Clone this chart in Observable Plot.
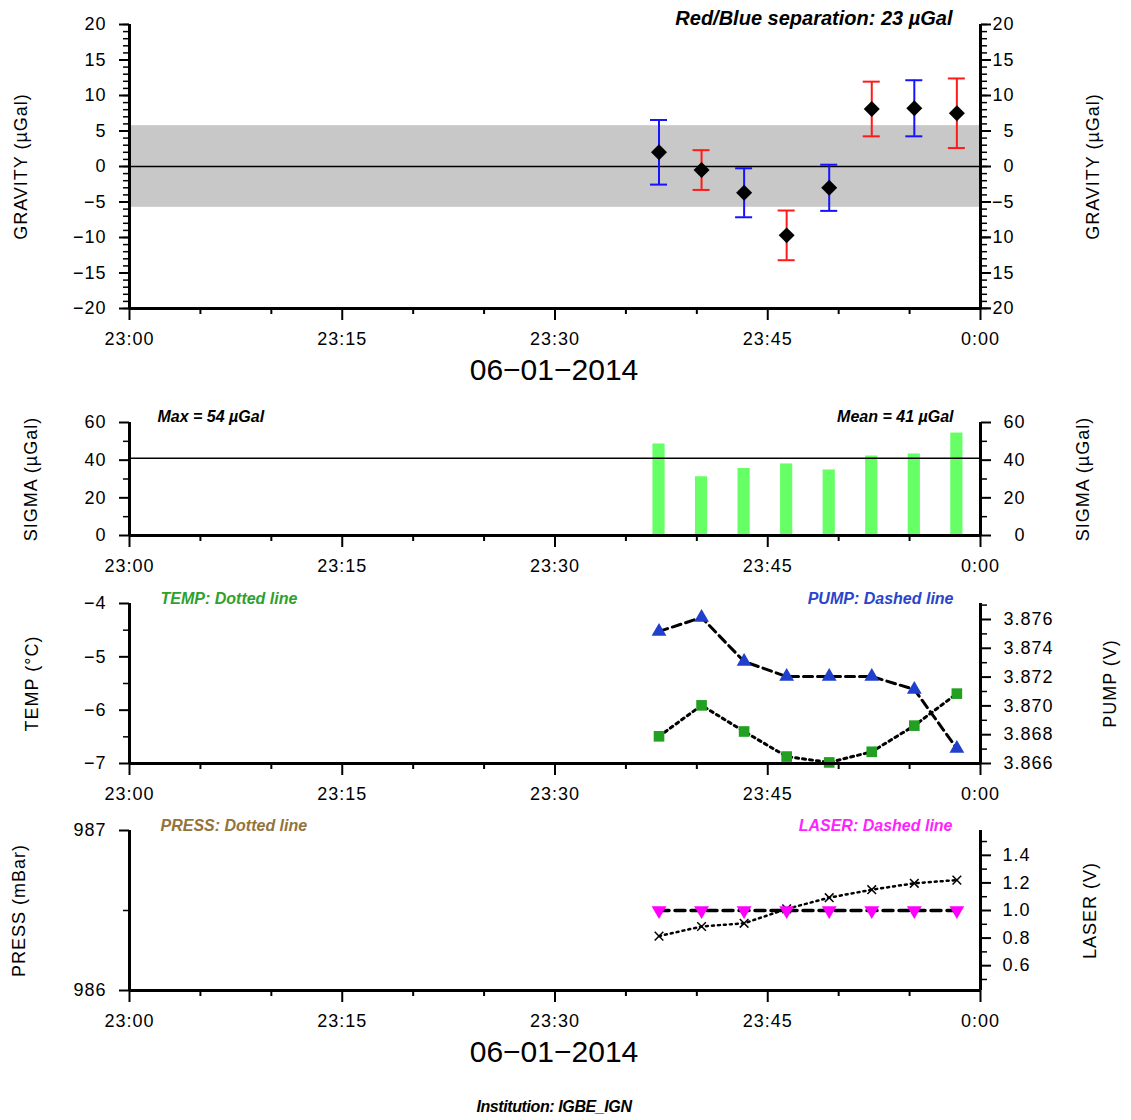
<!DOCTYPE html>
<html><head><meta charset="utf-8">
<script src="https://cdn.jsdelivr.net/npm/d3@7"></script>
<script src="https://cdn.jsdelivr.net/npm/@observablehq/plot@0.6"></script>
<style>
body{margin:0;background:#fff;}
#chart{position:relative;width:1131px;height:1120px;font-family:"Liberation Sans",Arial,sans-serif;overflow:hidden;}
#chart svg{position:absolute;left:0;background:transparent;overflow:visible;}
#chart [aria-label$="tick label"]{letter-spacing:1px;}
#chart [aria-label="y-axis label"]{letter-spacing:1px;}
.note{position:absolute;left:0;width:1108px;text-align:center;color:#000;}
</style></head><body><div id="chart"></div>
<script>
// ---- data ----
const times = ["23:37:20","23:40:20","23:43:20","23:46:20","23:49:20","23:52:20","23:55:20","23:58:20"];
const gravity = [2.0, -0.5, -3.7, -9.7, -3.0, 8.1, 8.2, 7.5];
const gravityErr = [4.55, 2.8, 3.45, 3.5, 3.25, 3.85, 3.95, 4.9];
const setColors = ["#1414ff","#ff1a1a","#1414ff","#ff1a1a","#1414ff","#ff1a1a","#1414ff","#ff1a1a"];
const gravityBand = [-5.75, 5.75];
const sigma = [48.6, 31.2, 35.6, 38.0, 34.8, 42.2, 43.3, 54.4];
const temp = [-6.49, -5.91, -6.40, -6.87, -6.98, -6.78, -6.29, -5.69];
const pump = [3.87517, 3.87614, 3.87308, 3.87204, 3.87204, 3.87204, 3.87114, 3.86704];
const press = [986.34, 986.40, 986.42, 986.51, 986.58, 986.63, 986.67, 986.69];
const laser = [1.0, 1.0, 1.0, 1.0, 1.0, 1.0, 1.0, 1.0];
const xTickLabels = ["23:00","23:15","23:30","23:45","0:00"];
const separationText = "Red/Blue separation: 23 \u00b5Gal";
const dateLabel = "06\u221201\u22122014";
const institution = "Institution: IGBE_IGN";

// ---- helpers ----
const FONT = "'Liberation Sans', Arial, Helvetica, sans-serif";
const W = 1131, ML = 129, MR = 1131 - 980;
const tMin = times.map(s => { const [h, m, sec] = s.split(":").map(Number); return (h - 23) * 60 + m + sec / 60; });
const xMajor = [0, 15, 30, 45, 60];
const xMinor = d3.range(0, 61, 5).filter(v => v % 15 !== 0);
const capHalf = 0.6, barHalf = 0.43;
const chart = document.getElementById("chart");

function place(svg, top) { svg.style.top = top + "px"; chart.appendChild(svg); }
function base(height, mt, mb, yDomain, marks) {
  return Plot.plot({
    width: W, height, marginLeft: ML, marginRight: MR, marginTop: mt, marginBottom: mb,
    x: {domain: [0, 60], axis: null}, y: {domain: yDomain, axis: null},
    style: {fontFamily: FONT, fontSize: "18px", background: "transparent", overflow: "visible"},
    marks
  });
}
function xAxes() {
  return [
    Plot.axisX(xMinor, {anchor: "bottom", tickSize: 6, strokeWidth: 2, tickFormat: () => "", label: null}),
    Plot.axisX(xMajor, {anchor: "bottom", tickSize: 12, tickPadding: 12, strokeWidth: 2,
      tickFormat: d => xTickLabels[xMajor.indexOf(d)], label: null})
  ];
}
function yAxes(anchor, major, minor, fmt, label, labelOffset, tickPadding, textAnchor) {
  return [
    Plot.axisY(minor, {anchor, tickSize: 6, strokeWidth: 1.5, tickFormat: () => "", label: null}),
    Plot.axisY(major, {anchor, tickSize: 10, strokeWidth: 2, tickPadding, tickFormat: fmt, textAnchor,
      label, labelAnchor: "center", labelOffset, labelArrow: false})
  ];
}
function note(txt, anchor, dx, dy, color, size) {
  return Plot.text([txt], {text: d => d, frameAnchor: anchor === "left" ? "top-left" : "top-right",
    textAnchor: anchor === "left" ? "start" : "end", lineAnchor: "middle", dx, dy,
    fill: color, fontWeight: "bold", fontStyle: "italic", fontSize: size});
}
function frame(yDomain, right = true) {
  const m = [Plot.ruleX([0], {strokeWidth: 3}), Plot.ruleY([yDomain[0]], {strokeWidth: 3})];
  if (right) m.push(Plot.ruleX([60], {strokeWidth: 3}));
  return m;
}

// ---- panel 1: gravity ----
const gData = tMin.map((t, i) => ({t, g: gravity[i], e: gravityErr[i], c: setColors[i]}));
const fmtInt = d3.format("d");
place(base(360, 24, 52, [-20, 20], [
  Plot.rect([gravityBand], {y1: d => d[0], y2: d => d[1], fill: "#c8c8c8"}),
  Plot.ruleY([0], {strokeWidth: 1.5}),
  Plot.ruleX(gData, {x: "t", y1: d => d.g - d.e, y2: d => d.g + d.e, stroke: "c", strokeWidth: 2}),
  Plot.ruleY(gData, {y: d => d.g + d.e, x1: d => d.t - capHalf, x2: d => d.t + capHalf, stroke: "c", strokeWidth: 2}),
  Plot.ruleY(gData, {y: d => d.g - d.e, x1: d => d.t - capHalf, x2: d => d.t + capHalf, stroke: "c", strokeWidth: 2}),
  Plot.dot(gData, {x: "t", y: "g", symbol: "diamond2", fill: "black", r: 7.2}),
  ...frame([-20, 20]),
  ...xAxes(),
  ...yAxes("left", d3.range(-20, 21, 5), d3.range(-20, 21, 1), fmtInt, "GRAVITY (\u00b5Gal)", 115, 13),
  ...yAxes("right", d3.range(-20, 21, 5), d3.range(-20, 21, 1), fmtInt, "GRAVITY (\u00b5Gal)", 118, 24, "end"),
  note(separationText, "right", -28, -6, "#000", 20)
]), 0);

// ---- panel 2: sigma ----
const sData = tMin.map((t, i) => ({t, s: sigma[i]}));
const sMean = d3.mean(sigma), sMax = d3.max(sigma);
place(base(200, 32, 55, [0, 60], [
  Plot.rectY(sData, {x1: d => d.t - barHalf, x2: d => d.t + barHalf, y: "s", fill: "#66ff66"}),
  Plot.ruleY([sMean], {strokeWidth: 1.5}),
  ...frame([0, 60]),
  ...xAxes(),
  ...yAxes("left", [0, 20, 40, 60], [10, 30, 50], fmtInt, "SIGMA (\u00b5Gal)", 105, 13),
  ...yAxes("right", [0, 20, 40, 60], [10, 30, 50], fmtInt, "SIGMA (\u00b5Gal)", 108, 35, "end"),
  note(`Max = ${Math.round(sMax)} \u00b5Gal`, "left", 28, -5.5, "#000", 16),
  note(`Mean = ${Math.round(sMean)} \u00b5Gal`, "right", -27, -5.5, "#000", 16)
]), 390);

// ---- panel 3: temp / pump ----
const tData = tMin.map((t, i) => ({t, v: temp[i]}));
const pData = tMin.map((t, i) => ({t, v: pump[i]}));
const pumpDomain = [3.866, 3.87711];
place(base(225, 23, 42, [-7, -4], [
  Plot.line(tData, {x: "t", y: "v", stroke: "black", strokeWidth: 3, strokeDasharray: "3,4"}),
  Plot.dot(tData, {x: "t", y: "v", symbol: "square", fill: "#22a022", r: 6}),
  ...frame([-7, -4], false),
  ...xAxes(),
  ...yAxes("left", [-7, -6, -5, -4], [-6.5, -5.5, -4.5], fmtInt, "TEMP (\u00b0C)", 104, 13),
  note("TEMP: Dotted line", "left", 31, -5, "#2ea02e", 16),
  note("PUMP: Dashed line", "right", -27, -5, "#2a44cc", 16)
]), 580);
place(base(225, 23, 42, pumpDomain, [
  Plot.line(pData, {x: "t", y: "v", stroke: "black", strokeWidth: 3, strokeDasharray: "9,5"}),
  Plot.dot(pData, {x: "t", y: "v", symbol: "triangle", fill: "#1f3fcc", r: 5.5}),
  Plot.ruleX([60], {strokeWidth: 3}),
  ...yAxes("right", d3.range(3.866, 3.8765, 0.002), d3.range(3.867, 3.8775, 0.002), d3.format(".3f"), "PUMP (V)", 135, 63, "end")
]), 580);

// ---- panel 4: press / laser ----
const prData = tMin.map((t, i) => ({t, v: press[i]}));
const lData = tMin.map((t, i) => ({t, v: laser[i]}));
const laserDomain = [0.42, 1.58];
place(base(230, 25, 45, [986, 987], [
  Plot.line(prData, {x: "t", y: "v", stroke: "black", strokeWidth: 2.5, strokeDasharray: "2,4"}),
  Plot.dot(prData, {x: "t", y: "v", symbol: "times", stroke: "black", r: 4, strokeWidth: 1.5}),
  ...frame([986, 987], false),
  ...xAxes(),
  ...yAxes("left", [986, 987], [986.5], fmtInt, "PRESS (mBar)", 117, 13),
  note("PRESS: Dotted line", "left", 31, -5, "#94733a", 16),
  note("LASER: Dashed line", "right", -28, -5, "#ff22ff", 16)
]), 805);
place(base(230, 25, 45, laserDomain, [
  Plot.line(lData, {x: "t", y: "v", stroke: "black", strokeWidth: 3.5, strokeDasharray: "10,6"}),
  Plot.dot(lData, {x: "t", y: "v", symbol: "triangle", rotate: 180, fill: "#ff00ff", r: 5.5}),
  Plot.ruleX([60], {strokeWidth: 3}),
  ...yAxes("right", [0.6, 0.8, 1.0, 1.2, 1.4], [0.5, 0.7, 0.9, 1.1, 1.3, 1.5], d3.format(".1f"), "LASER (V)", 115, 40, "end")
]), 805);

// ---- text below panels ----
function addNote(txt, centerY, css) {
  const d = document.createElement("div");
  d.className = "note"; d.textContent = txt; Object.assign(d.style, css);
  chart.appendChild(d);
  d.style.top = (centerY - d.offsetHeight / 2) + "px";
}
addNote(dateLabel, 370, {fontSize: "30px", lineHeight: "34px"});
addNote(dateLabel, 1052, {fontSize: "30px", lineHeight: "34px"});
addNote(institution, 1107, {fontSize: "16px", lineHeight: "18px", fontWeight: "bold", fontStyle: "italic", letterSpacing: "-0.4px"});
</script></body></html>
